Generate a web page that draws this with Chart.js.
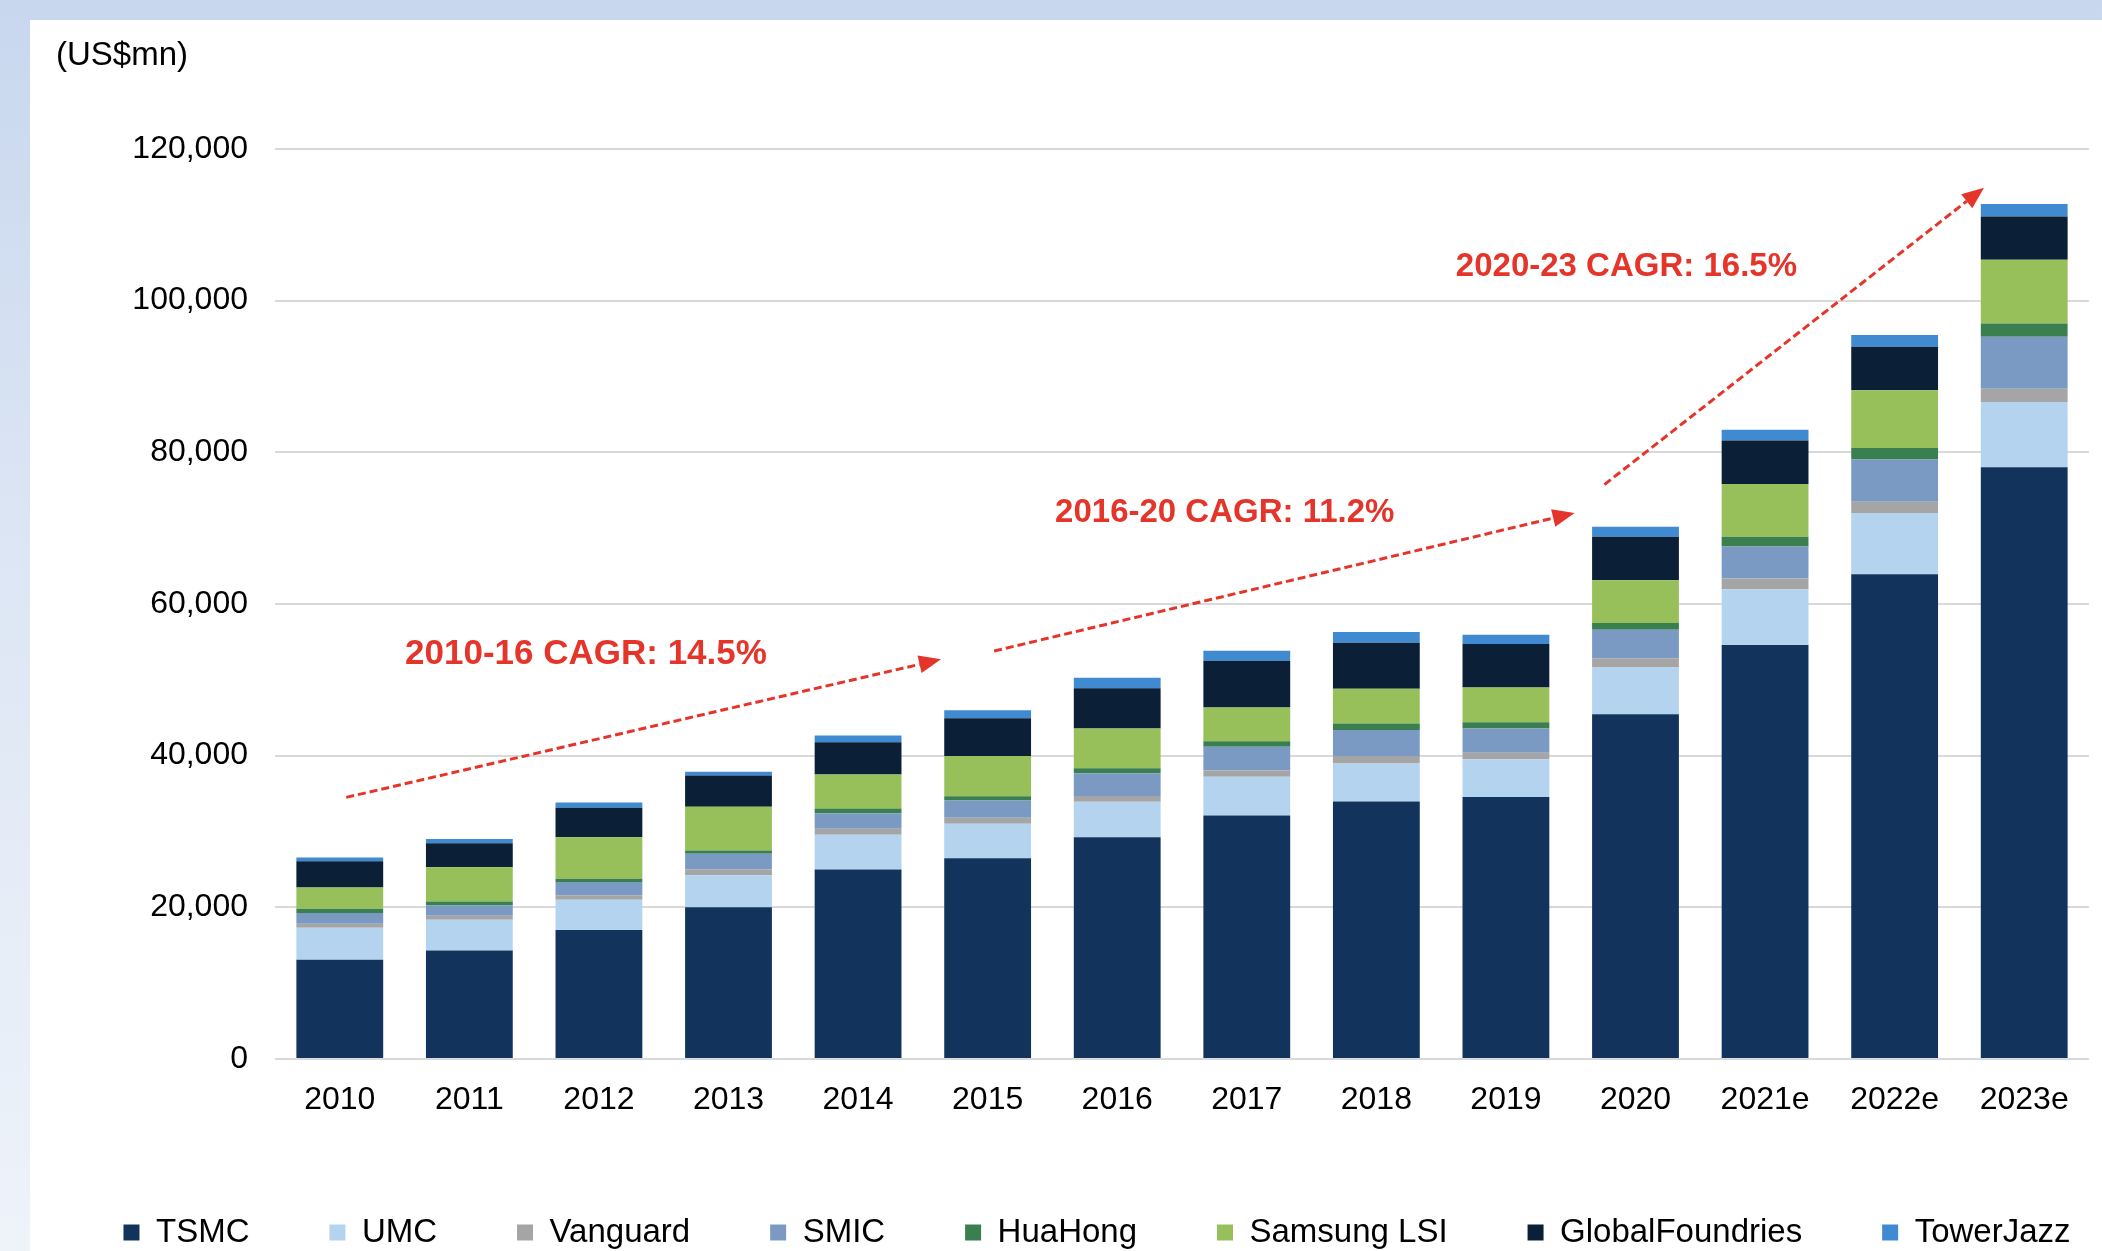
<!DOCTYPE html>
<html>
<head>
<meta charset="utf-8">
<script src="https://cdn.jsdelivr.net/npm/chart.js@4.4.1/dist/chart.umd.min.js"></script>
<style>
  html, body { margin: 0; padding: 0; width: 2102px; height: 1251px; overflow: hidden; }
  body { background: linear-gradient(to bottom, #c8d7ee 0%, #dde6f4 45%, #eef3fa 100%); }
  #panel { position: absolute; left: 30px; top: 20px; right: 0; bottom: 0; background: #fff; }
  #wrap { position: absolute; left: 0; top: 8px; width: 2102px; height: 1251px; }
</style>
</head>
<body>
<div id="panel"></div>
<div id="wrap"><canvas id="myChart"></canvas></div>
<script>
const years = ['2010', '2011', '2012', '2013', '2014', '2015', '2016', '2017', '2018', '2019', '2020', '2021e', '2022e', '2023e'];

// US$mn
const tsmc = [13100, 14300, 17000, 20000, 25000, 26470, 29250, 32110, 33960, 34540, 45460, 54580, 63930, 78040];
const umc = [4200, 4050, 4010, 4230, 4580, 4540, 4670, 5110, 5020, 4980, 6170, 7360, 8070, 8600];
const vanguard = [550, 530, 570, 750, 790, 790, 750, 840, 970, 880, 1230, 1410, 1500, 1760];
const smic = [1400, 1370, 1760, 2070, 2030, 2290, 3000, 3130, 3440, 3170, 3760, 4230, 5560, 6840];
const huahong = [570, 530, 440, 440, 620, 570, 660, 700, 840, 840, 880, 1280, 1500, 1760];
const samsungLsi = [2800, 4490, 5460, 5770, 4490, 5290, 5240, 4450, 4580, 4580, 5640, 6970, 7630, 8380];
const globalFoundries = [3450, 3170, 3880, 4140, 4270, 4980, 5330, 6170, 6080, 5730, 5730, 5730, 5730, 5730];
const towerJazz = [500, 570, 700, 490, 880, 1060, 1370, 1320, 1410, 1230, 1320, 1410, 1540, 1630];

const yTicks = [0, 20000, 40000, 60000, 80000, 100000, 120000];

// CAGR arrows: [start index, start value, end index, end value]
const cagrArrows = [
  [0.05, 34500, 4.64, 52700],
  [5.05, 53800, 9.53, 72000],
  [9.76, 75750, 12.69, 114900]
];
const cagrTexts = ['2010-16 CAGR: 14.5%', '2016-20 CAGR: 11.2%', '2020-23 CAGR: 16.5%'];
const cagrTextPos = [[1.90, 53300], [6.83, 72000], [9.93, 104400]];
const cagrTextSize = [35, 33, 33];

const FONT = "'Liberation Sans', Arial, sans-serif";
const RED = '#e5352b';
const LEGEND_GAP = '        \u2009'; // spacing after each legend entry

const annotations = {
  id: 'annotations',
  afterDatasetsDraw(chart) {
    const ctx = chart.ctx;
    const xs = chart.scales.x, ys = chart.scales.y;
    ctx.save();
    // unit label
    ctx.fillStyle = '#000';
    ctx.font = '33px ' + FONT;
    ctx.textAlign = 'left';
    ctx.textBaseline = 'middle';
    ctx.fillText('(US$mn)', 56, 48);

    ctx.strokeStyle = RED;
    ctx.fillStyle = RED;
    cagrArrows.forEach(a => {
      const x1 = xs.getPixelForValue(a[0]), y1 = ys.getPixelForValue(a[1]);
      const x2 = xs.getPixelForValue(a[2]), y2 = ys.getPixelForValue(a[3]);
      const ang = Math.atan2(y2 - y1, x2 - x1);
      const headLen = 22, headW = 9;
      const bx = x2 - headLen * Math.cos(ang), by = y2 - headLen * Math.sin(ang);
      ctx.lineWidth = 3;
      ctx.setLineDash([8, 4]);
      ctx.beginPath();
      ctx.moveTo(x1, y1);
      ctx.lineTo(bx, by);
      ctx.stroke();
      ctx.setLineDash([]);
      ctx.beginPath();
      ctx.moveTo(x2, y2);
      ctx.lineTo(bx + headW * Math.sin(ang), by - headW * Math.cos(ang));
      ctx.lineTo(bx - headW * Math.sin(ang), by + headW * Math.cos(ang));
      ctx.closePath();
      ctx.fill();
    });

    ctx.textAlign = 'center';
    cagrTexts.forEach((t, i) => {
      ctx.font = 'bold ' + cagrTextSize[i] + 'px ' + FONT;
      ctx.fillText(t, xs.getPixelForValue(cagrTextPos[i][0]), ys.getPixelForValue(cagrTextPos[i][1]));
    });
    ctx.restore();
  }
};

var context = document.getElementById('myChart');
var myChart = new Chart(context, {
  type: 'bar',
  data: {
    labels: years,
    datasets: [
      { label: 'TSMC', data: tsmc, backgroundColor: '#12345c' },
      { label: 'UMC', data: umc, backgroundColor: '#b4d3ee' },
      { label: 'Vanguard', data: vanguard, backgroundColor: '#a5a5a5' },
      { label: 'SMIC', data: smic, backgroundColor: '#7a9ac4' },
      { label: 'HuaHong', data: huahong, backgroundColor: '#3a7f4f' },
      { label: 'Samsung LSI', data: samsungLsi, backgroundColor: '#98c05a' },
      { label: 'GlobalFoundries', data: globalFoundries, backgroundColor: '#0b1f37' },
      { label: 'TowerJazz', data: towerJazz, backgroundColor: '#3f8ad0' }
    ]
  },
  options: {
    responsive: true,
    maintainAspectRatio: false,
    animation: false,
    categoryPercentage: 1,
    barPercentage: 0.67,
    layout: { padding: { top: 141, left: 105, right: 13, bottom: 0 } },
    plugins: {
      tooltip: { enabled: false },
      legend: {
        position: 'bottom',
        labels: {
          boxWidth: 16,
          boxHeight: 16,
          padding: 0,
          color: '#000',
          font: { family: FONT, size: 33 },
          generateLabels(chart) {
            const items = Chart.defaults.plugins.legend.labels.generateLabels(chart);
            items.forEach((it, i) => {
              if (i < items.length - 1) it.text = it.text + LEGEND_GAP;
            });
            return items;
          }
        }
      }
    },
    scales: {
      x: {
        stacked: true,
        grid: { display: false },
        border: { display: false },
        ticks: { color: '#000', padding: 14, font: { family: FONT, size: 32 } },
        afterFit(scale) { scale.height = 157; }
      },
      y: {
        stacked: true,
        min: 0,
        max: 120000,
        afterBuildTicks(scale) { scale.ticks = yTicks.map(v => ({ value: v })); },
        grid: { color: '#d9d9d9', lineWidth: 2, drawTicks: false },
        border: { display: false },
        ticks: {
          color: '#000',
          padding: 27,
          font: { family: FONT, size: 32 },
          callback: v => v.toLocaleString('en-US')
        },
        afterFit(scale) { scale.width = 170; }
      }
    }
  },
  plugins: [annotations]
});
</script>
</body>
</html>
